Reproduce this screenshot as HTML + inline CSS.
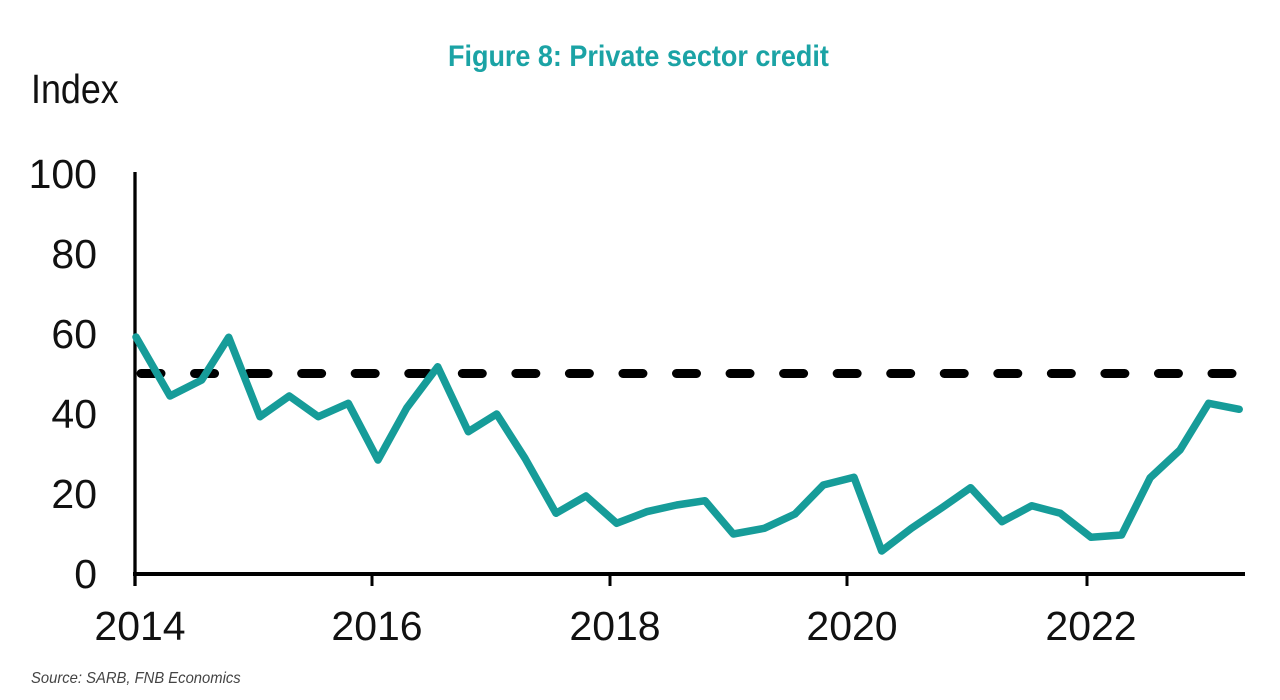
<!DOCTYPE html>
<html><head><meta charset="utf-8"><style>
html,body{margin:0;padding:0;background:#fff;}
svg{display:block;}
</style></head><body>
<svg width="1280" height="700" viewBox="0 0 1280 700" xmlns="http://www.w3.org/2000/svg">
<rect width="1280" height="700" fill="#fff"/>
<text x="0" y="0" transform="translate(448,66) scale(0.9,1)" font-family="Liberation Sans, sans-serif" font-weight="bold" font-size="30" fill="#1ba3a5">Figure 8: Private sector credit</text>
<text x="0" y="0" transform="translate(31,103) scale(0.875,1)" font-family="Liberation Sans, sans-serif" font-size="41" fill="#111">Index</text>
<g font-family="Liberation Sans, sans-serif" font-size="41" fill="#111" text-anchor="end">
<text x="97" y="188">100</text>
<text x="97" y="268">80</text>
<text x="97" y="348">60</text>
<text x="97" y="428">40</text>
<text x="97" y="508">20</text>
<text x="97" y="588">0</text>
</g>
<g font-family="Liberation Sans, sans-serif" font-size="41" fill="#111" text-anchor="middle">
<text x="140" y="640">2014</text>
<text x="377" y="640">2016</text>
<text x="615" y="640">2018</text>
<text x="852" y="640">2020</text>
<text x="1091" y="640">2022</text>
</g>
<line x1="135" y1="172" x2="135" y2="586" stroke="#000" stroke-width="3.3"/>
<line x1="133" y1="574" x2="1245" y2="574" stroke="#000" stroke-width="4"/>
<g stroke="#000" stroke-width="3">
<line x1="372" y1="574" x2="372" y2="586"/>
<line x1="610" y1="574" x2="610" y2="586"/>
<line x1="847" y1="574" x2="847" y2="586"/>
<line x1="1087" y1="574" x2="1087" y2="586"/>
</g>
<line x1="141" y1="373.5" x2="1240" y2="373.5" stroke="#000" stroke-width="9" stroke-linecap="round" stroke-dasharray="20 33.55"/>
<polyline fill="none" stroke="#169c99" stroke-width="7.5" stroke-linejoin="round" stroke-linecap="round" points="136,337 170,396 201.7,380 228.7,337.3 260,416.7 289.3,396 318.3,416.7 348.3,403.3 378,460 406.7,408 437.7,366.7 468.3,431.7 496.7,414 525,458.3 556,513.3 586,496 616.7,523.3 646.7,511.7 676.7,505 705,500.7 733.3,534 764.3,528.3 795,514 823.3,485 854,477.3 881.7,551 911.4,528.3 942,507.7 970.6,487.7 1002,521.7 1031.8,505.7 1060.4,513.3 1091,537.3 1121.6,535 1150.2,477.7 1180,450 1208.6,403.3 1239.2,409.3"/>
<text x="0" y="0" transform="translate(31,683) scale(0.925,1)" font-family="Liberation Sans, sans-serif" font-style="italic" font-size="16" fill="#444">Source: SARB, FNB Economics</text>
</svg>
</body></html>
